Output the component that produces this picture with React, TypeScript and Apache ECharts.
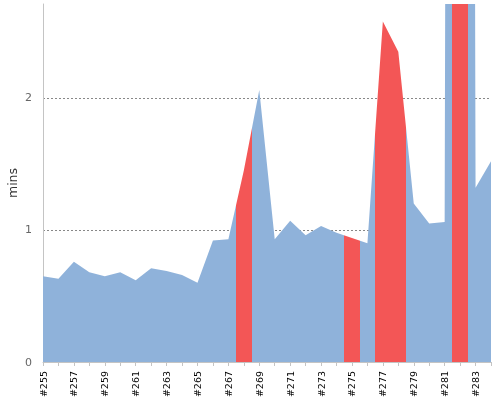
import React, { useEffect, useRef } from 'react';
import * as echarts from 'echarts';

const builds = [
  '#255', '#256', '#257', '#258', '#259', '#260', '#261', '#262', '#263', '#264',
  '#265', '#266', '#267', '#268', '#269', '#270', '#271', '#272', '#273', '#274',
  '#275', '#276', '#277', '#278', '#279', '#280', '#281', '#282', '#283', '#284'
];

// build duration in minutes
const durations = [
  0.65, 0.63, 0.76, 0.68, 0.65, 0.68, 0.62, 0.71, 0.69, 0.66,
  0.6, 0.92, 0.93, 1.45, 2.06, 0.93, 1.07, 0.96, 1.03, 0.98,
  0.94, 0.9, 2.58, 2.35, 1.2, 1.05, 1.06, 50, 1.32, 1.52
];

// failed builds, marked in red
const failed = ['#268', '#275', '#277', '#278', '#282'];

const yTicks = [0, 1, 2];

const BLUE = '#8fb2da';
const RED = '#f35656';

const App: React.FC = () => {
  const chartRef = useRef<HTMLDivElement>(null);

  useEffect(() => {
    if (!chartRef.current) return;

    const chart = echarts.init(chartRef.current, undefined, { renderer: 'svg' });

    // x is the build index, so a failed build covers half a step either side
    const pieces = failed.map((b) => {
      const i = builds.indexOf(b);
      return { gt: i - 0.5, lte: i + 0.5, color: RED };
    });

    const options: echarts.EChartsOption = {
      animation: false,
      textStyle: { fontFamily: 'DejaVu Sans' },
      grid: { left: 43, right: 9, top: 4, bottom: 38, outerBoundsMode: 'none' } as any,
      visualMap: {
        type: 'piecewise',
        show: false,
        dimension: 0,
        seriesIndex: 0,
        pieces,
        outOfRange: { color: BLUE }
      },
      xAxis: {
        type: 'value',
        min: 0,
        max: builds.length - 1,
        interval: 1,
        axisLine: { lineStyle: { color: '#c4c4c4' } },
        axisTick: { show: true, length: 4, lineStyle: { color: '#c4c4c4' } },
        axisLabel: {
          rotate: 90,
          margin: 9,
          color: '#000',
          fontSize: 9.5,
          formatter: (v: number) => (v % 2 === 0 ? builds[v] : '')
        },
        splitLine: { show: false }
      },
      yAxis: {
        type: 'value',
        min: 0,
        max: 2.712,
        interval: 1,
        offset: 3,
        name: 'mins',
        nameLocation: 'middle',
        nameRotate: 90,
        nameGap: 21,
        nameMoveOverlap: false,
        nameTextStyle: { color: '#333', fontSize: 12.5 },
        axisLine: { show: true, lineStyle: { color: '#c4c4c4' } },
        axisTick: { show: false },
        axisLabel: {
          color: '#666',
          fontSize: 11,
          margin: 8,
          showMaxLabel: false,
          formatter: (v: number) => (yTicks.includes(v) ? String(v) : '')
        },
        splitLine: {
          show: true,
          showMinLine: false,
          showMaxLine: false,
          lineStyle: { color: '#888', type: [2, 2], width: 1 }
        } as any
      } as any,
      series: [
        {
          type: 'line',
          data: durations.map((d, i) => [i, d]),
          symbol: 'none',
          lineStyle: { width: 0 },
          areaStyle: { opacity: 1 },
          clip: true
        }
      ]
    };

    chart.setOption(options);

    return () => {
      chart.dispose();
    };
  }, []);

  return (
    <div
      ref={chartRef}
      style={{ position: 'fixed', left: 0, top: 0, width: 500, height: 400 }}
    />
  );
};

export default App;
